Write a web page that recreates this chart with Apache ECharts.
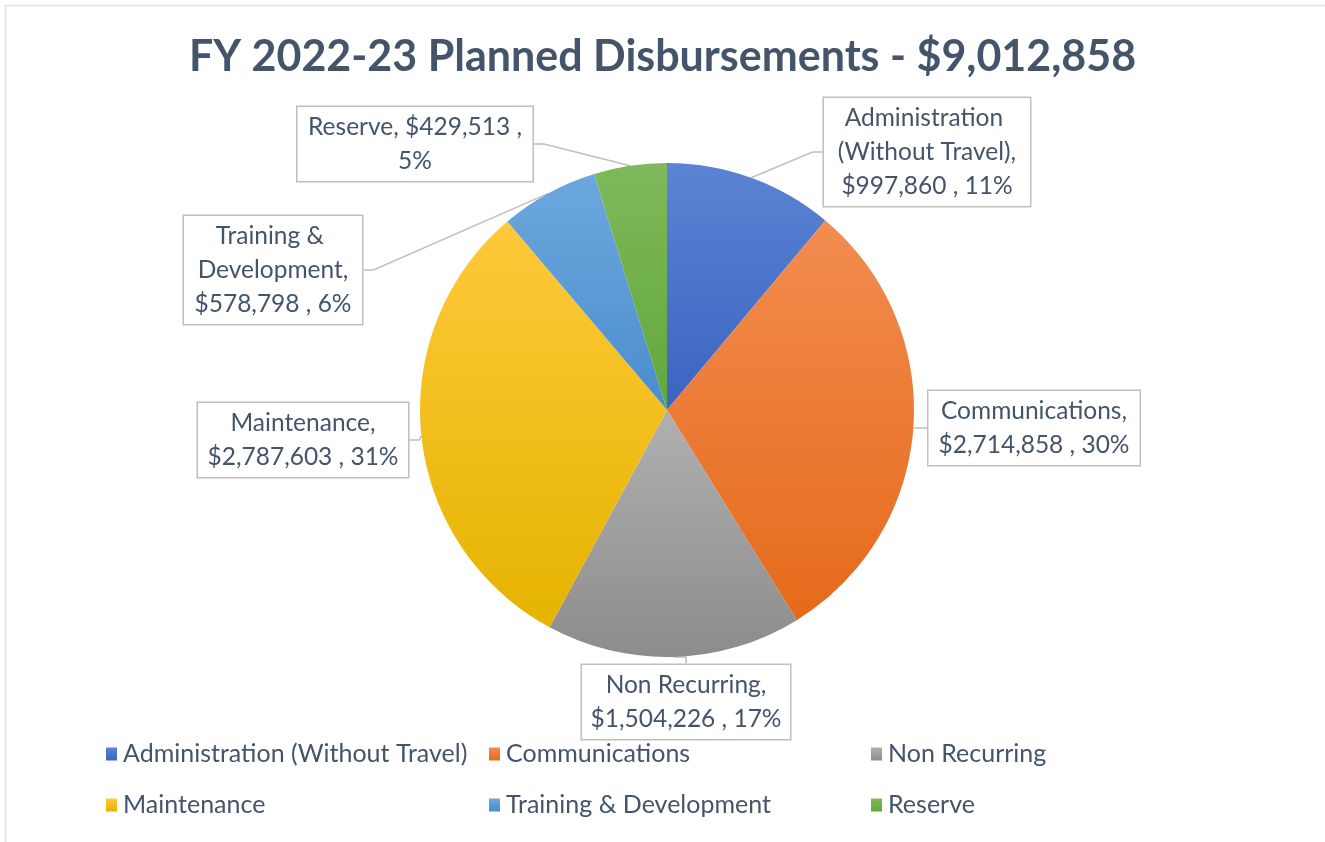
<!DOCTYPE html>
<html>
<head>
<meta charset="utf-8">
<title>FY 2022-23 Planned Disbursements</title>
<script src="https://cdn.jsdelivr.net/npm/echarts@6/dist/echarts.min.js"></script>
<style>
  html, body { margin: 0; padding: 0; background: #fff; }
  #chart { width: 1325px; height: 842px; }
</style>
</head>
<body>
<div id="chart"></div>
<script>
// data
const categories = ['Administration (Without Travel)', 'Communications', 'Non Recurring',
  'Maintenance', 'Training & Development', 'Reserve'];
const amounts = [997860, 2714858, 1504226, 2787603, 578798, 429513];

// styling (Office palette, lighter at top -> darker at bottom)
const topColors = ['#5b84d4', '#f28c50', '#b0b0b0', '#ffc93a', '#6ca8de', '#7fb95a'];
const bottomColors = ['#3a64c0', '#e56a1a', '#8c8c8c', '#e5b300', '#4a8dcc', '#62a73a'];
const labelWidths = [190, 195, 192, 194, 162, 219];
// where the callout text wraps: after the name, or before the percent
const nameSep = [',\n', ',\n', ',\n', ',\n', ',\n', ', '];
const pctSep = [' , ', ' , ', ' , ', ' , ', ' , ', ' ,\n'];
// label box centres, as offsets from the pie centre
const labelOffsets = [[260, -258], [367, 18], [19, 292], [-364, 30], [-394, -140], [-252, -266]];
const pieCenter = [667, 410];

const textColor = '#44546a';
const font = 'Lato, "Open Sans", sans-serif';
const total = amounts.reduce((a, b) => a + b, 0);
const money = v => '$' + v.toLocaleString('en-US');

const chart = echarts.init(document.getElementById('chart'));

const legendCol = (items, left) => ({
  orient: 'vertical',
  left: left,
  top: 740,
  padding: 0,
  icon: 'rect',
  itemWidth: 11,
  itemHeight: 13,
  itemGap: 23,
  selectedMode: false,
  data: items,
  textStyle: { color: textColor, fontFamily: font, fontSize: 25, lineHeight: 28, padding: [0, 0, 0, 1] }
});

chart.setOption({
  animation: false,
  backgroundColor: '#fff',
  title: {
    text: 'FY 2022-23 Planned Disbursements - ' + money(total),
    left: 'center',
    top: 31,
    textStyle: { color: textColor, fontFamily: font, fontSize: 43, fontWeight: 'bold' }
  },
  graphic: [{
    type: 'rect',
    shape: { x: 5.5, y: 5.5, width: 1340, height: 860 },
    style: { fill: 'none', stroke: '#dde1e6', lineWidth: 1.5 },
    silent: true
  }],
  legend: [
    legendCol([categories[0], categories[3]], 106),
    legendCol([categories[1], categories[4]], 489),
    legendCol([categories[2], categories[5]], 871)
  ],
  series: [{
    type: 'pie',
    center: pieCenter,
    radius: 247,
    startAngle: 90,
    clockwise: true,
    avoidLabelOverlap: false,
    emphasis: { disabled: true },
    data: categories.map((name, i) => ({
      name: name,
      value: amounts[i],
      itemStyle: {
        color: new echarts.graphic.LinearGradient(0, 0, 0, 1, [
          { offset: 0, color: topColors[i] },
          { offset: 1, color: bottomColors[i] }
        ])
      },
      label: { width: labelWidths[i] }
    })),
    label: {
      show: true,
      position: 'outside',
      formatter: p => p.name + nameSep[p.dataIndex] + money(p.value) + pctSep[p.dataIndex] + Math.round(p.percent) + '%',
      overflow: 'break',
      align: 'center',
      color: textColor,
      fontFamily: font,
      fontSize: 24.5,
      lineHeight: 34,
      backgroundColor: '#fff',
      borderColor: '#bfbfbf',
      borderWidth: 1.5,
      padding: [3, 8]
    },
    labelLine: {
      show: true,
      length: 10,
      length2: 10,
      lineStyle: { color: '#bfbfbf', width: 1.5 }
    },
    labelLayout: function (params) {
      const o = labelOffsets[params.dataIndex];
      return {
        x: pieCenter[0] + o[0],
        y: pieCenter[1] + o[1],
        align: 'center',
        verticalAlign: 'middle'
      };
    }
  }]
});
</script>
</body>
</html>
